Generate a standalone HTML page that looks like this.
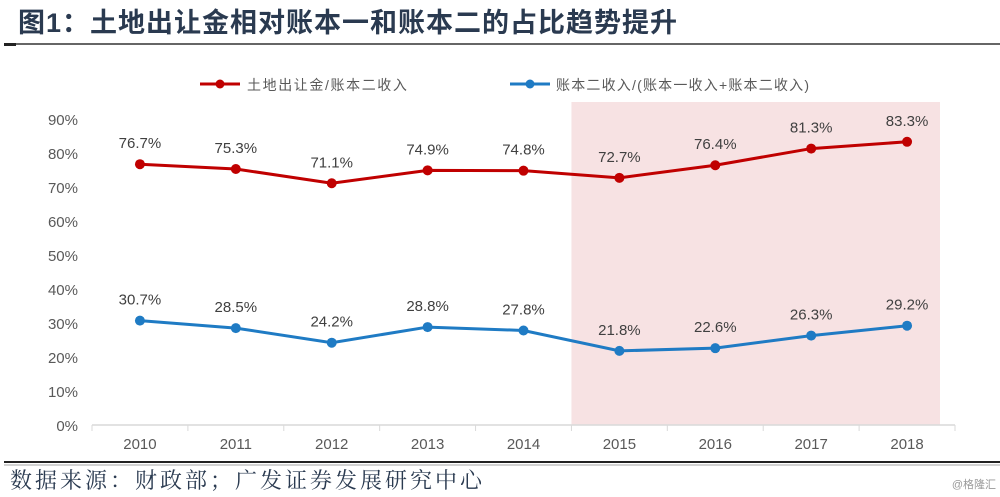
<!DOCTYPE html>
<html><head><meta charset="utf-8"><style>
body{margin:0;width:1000px;height:497px;background:#fff;overflow:hidden;font-family:"Liberation Sans","Noto Sans CJK SC",sans-serif}
svg{position:absolute;left:0;top:0}
</style></head><body>
<svg width="1000" height="497">
<text x="18" y="32" font-size="27" letter-spacing="1" font-weight="bold" fill="#2a3a50" font-family="Liberation Sans,Noto Sans CJK SC,sans-serif">图1：土地出让金相对账本一和账本二的占比趋势提升</text>
<line x1="4" y1="44" x2="1000" y2="44" stroke="#333" stroke-width="1.5"/>
<rect x="4" y="43" width="12" height="3" fill="#222"/>
<g id="legend">
<line x1="200" y1="84" x2="240" y2="84" stroke="#c00000" stroke-width="3"/><circle cx="220" cy="84" r="4.5" fill="#c00000"/>
<text x="247" y="90" font-size="14" letter-spacing="1.6" fill="#595959">土地出让金/账本二收入</text>
<line x1="510" y1="84" x2="550" y2="84" stroke="#1f7bc4" stroke-width="3"/><circle cx="530" cy="84" r="4.5" fill="#1f7bc4"/>
<text x="556" y="90" font-size="14" letter-spacing="1.2" fill="#595959">账本二收入/(账本一收入+账本二收入)</text>
</g>
<g id="plot"></g>
<line x1="4" y1="462" x2="1000" y2="462" stroke="#222" stroke-width="2"/>
<line x1="4" y1="465" x2="1000" y2="465" stroke="#888" stroke-width="0.8"/>
<text x="10" y="488" font-size="22" letter-spacing="3" fill="#2a3a50" font-family="Liberation Serif,Noto Serif CJK SC,serif">数据来源：财政部；广发证券发展研究中心</text>
<text x="996" y="488" font-size="11" fill="#999" text-anchor="end">@格隆汇</text>
</svg>
<script>
const categories=["2010","2011","2012","2013","2014","2015","2016","2017","2018"];
const redValues=[76.7,75.3,71.1,74.9,74.8,72.7,76.4,81.3,83.3];
const blueValues=[30.7,28.5,24.2,28.8,27.8,21.8,22.6,26.3,29.2];
const yTicks=[0,10,20,30,40,50,60,70,80,90];
const shadeFrom="2015";
const NS="http://www.w3.org/2000/svg";
const g=document.getElementById('plot');
const x0=92,x1=955,step=(x1-x0)/categories.length;
const X=i=>x0+step*(i+0.5);
const Y=v=>425-v*3.4;
function el(t,a,p){const e=document.createElementNS(NS,t);for(const k in a)e.setAttribute(k,a[k]);(p||g).appendChild(e);return e;}
const si=categories.indexOf(shadeFrom);
const sh=el('rect',{x:x0+step*si,y:Y(90)+-17,width:step*(categories.length-si)-15,height:425-Y(90)+17,fill:'#f7e2e3'});


yTicks.forEach(t=>{const tx=el('text',{x:78,y:Y(t)+6,'font-size':15,fill:'#595959','text-anchor':'end'});tx.textContent=t+'%';

});
el('line',{x1:x0,y1:425,x2:x1,y2:425,stroke:'#d9d9d9','stroke-width':1.5});
for(let i=0;i<=categories.length;i++)el('line',{x1:x0+step*i,y1:425,x2:x0+step*i,y2:431,stroke:'#d9d9d9'});
categories.forEach((c,i)=>{const tx=el('text',{x:X(i),y:449,'font-size':15,fill:'#595959','text-anchor':'middle'});tx.textContent=c;

});
function series(vals,color,name){
const pl=el('polyline',{points:vals.map((v,i)=>X(i)+','+Y(v)).join(' '),fill:'none',stroke:color,'stroke-width':3});


vals.forEach((v,i)=>{const c=el('circle',{cx:X(i),cy:Y(v),r:5,fill:color});


const t=el('text',{x:X(i),y:Y(v)-16,'font-size':15,fill:'#404040','text-anchor':'middle'});t.textContent=v.toFixed(1)+'%';

});}
series(redValues,'#c00000','red-series');
series(blueValues,'#1f7bc4','blue-series');
</script>
</body></html>
